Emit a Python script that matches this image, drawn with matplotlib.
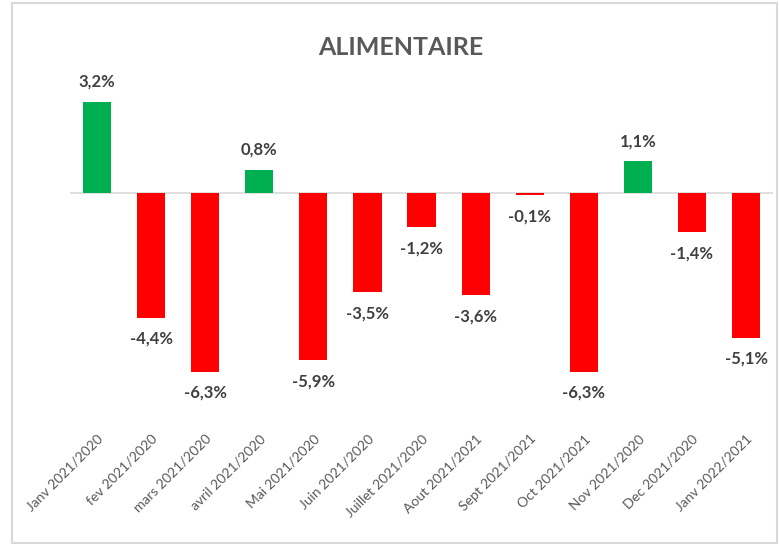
import matplotlib.pyplot as plt
from matplotlib.patches import Rectangle

#----------data-------------*
categories = ['Janv 2021/2020', 'fev 2021/2020', 'mars 2021/2020', 'avril 2021/2020',
              'Mai 2021/2020', 'Juin 2021/2020', 'Juillet 2021/2020', 'Aout 2021/2021',
              'Sept 2021/2021', 'Oct 2021/2021', 'Nov 2021/2020', 'Dec 2021/2020',
              'Janv 2022/2021']
values = [3.2, -4.4, -6.3, 0.8, -5.9, -3.5, -1.2, -3.6, -0.1, -6.3, 1.1, -1.4, -5.1]

plt.rcParams['font.family'] = ['Lato', 'DejaVu Sans']

fig = plt.figure(figsize=(7.79, 5.44), dpi=100)
ax = fig.add_axes([0.0899, 0.228, 0.9025, 0.653])

colors = ['#00B050' if v >= 0 else '#FF0000' for v in values]
x = range(len(values))
ax.bar(x, values, width=0.52, color=colors, zorder=2)

for i, v in enumerate(values):
    label = ('%.1f%%' % v).replace('.', ',')
    off = 0.7 if v >= 0 else -0.75
    ax.text(i, v + off, label, ha='center', va='center', fontsize=12,
            fontweight='bold', color='#404040')

ax.set_xlim(-0.5, len(values) - 0.5)
ax.set_ylim(-8.0, 4.5)
ax.axhline(0, color='#D9D9D9', lw=1.2, zorder=1)

ax.set_xticks(list(x))
ax.set_xticklabels(categories, rotation=45, ha='right', rotation_mode='anchor',
                   fontsize=10, color='#595959')
ax.tick_params(axis='x', length=0, pad=9)
ax.set_yticks([])
for s in ax.spines.values():
    s.set_visible(False)

fig.text(0.515, 0.912, 'ALIMENTAIRE', ha='center', va='center', fontsize=18,
         fontweight='bold', color='#595959')

# chart frame
fig.patches.append(Rectangle((12 / 779, 1 / 544), 765 / 779, 540 / 544,
                             transform=fig.transFigure, fill=False,
                             edgecolor='#D9D9D9', lw=1.5))

fig.savefig('out.png', dpi=100)
